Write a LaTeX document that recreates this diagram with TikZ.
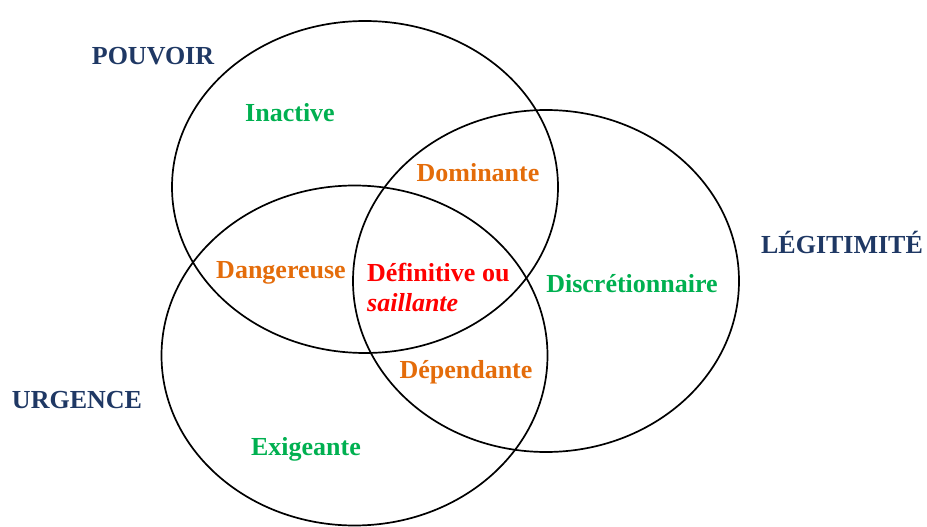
\documentclass[tikz,border=0pt]{standalone}
\usepackage{fontspec}
\setmainfont{Liberation Serif}
\definecolor{navy}{HTML}{1F3864}
\definecolor{vert}{HTML}{00B050}
\definecolor{orange}{HTML}{E46C0A}
\definecolor{rouge}{HTML}{FF0000}
\tikzset{
  ring/.style={draw=black, line width=1.7pt},
  lbl/.style={font=\fontsize{26}{30}\selectfont\bfseries, inner sep=0pt, anchor=base},
  cat/.style={lbl, text=navy},
  outer/.style={lbl, text=vert},
  pair/.style={lbl, text=orange},
  core/.style={lbl, text=rouge, align=left, anchor=base west},
}
\begin{document}
\begin{tikzpicture}[x=1pt,y=-1pt]
\useasboundingbox (0,0) rectangle (927,527);
% circles
\draw[ring] (365,187) ellipse [x radius=193pt, y radius=166pt];
\draw[ring] (546,281) ellipse [x radius=193pt, y radius=171pt];
\draw[ring] (354.5,355.5) ellipse [x radius=193pt, y radius=170pt];
% category labels
\node[cat] (pouvoir) at (153,65) {POUVOIR};
\node[cat] (legit) at (842,253) {LÉGITIMITÉ};
\node[cat] (urgence) at (77,408) {URGENCE};
% region labels
\node[outer] (inactive) at (290,121.5) {Inactive};
\node[pair] (dominante) at (478,181) {Dominante};
\node[pair] (dangereuse) at (281,278.5) {Dangereuse};
\node[core] (definitive) at (367,311.5) {Définitive ou\\\textit{saillante}};
\node[outer] (discret) at (632,292.5) {Discrétionnaire};
\node[pair] (dependante) at (466,378) {Dépendante};
\node[outer] (exigeante) at (306,455) {Exigeante};
\end{tikzpicture}
\end{document}
